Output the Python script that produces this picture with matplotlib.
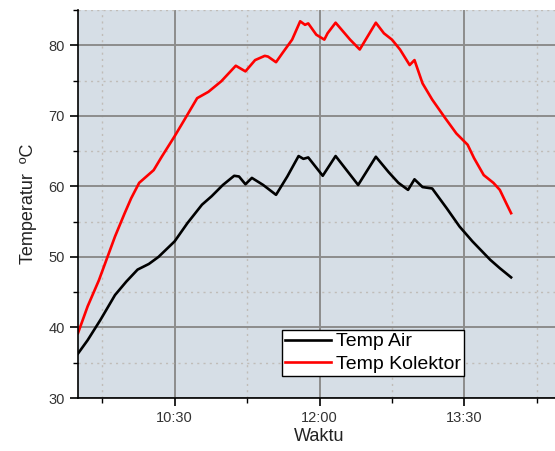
# Temperatur air dan kolektor terhadap waktu

from matplotlib import pyplot as plt
from matplotlib.ticker import MultipleLocator

# Waktu dalam menit sejak 00:00
waktu_kolektor = [570, 576, 583, 588, 593, 599, 603, 608, 617, 622, 630, 636,
                  644, 651, 659, 668, 674, 680, 686, 688, 693, 697, 703, 708,
                  711, 713, 718, 723, 725, 730, 739, 745, 750, 755, 760, 765,
                  770, 776, 779, 784, 790, 798, 805, 812, 816, 822, 828, 832,
                  836, 839]
temp_kolektor = [39.2, 43.0, 46.7, 49.8, 52.9, 56.2, 58.3, 60.5, 62.3, 64.2,
                 67.1, 69.4, 72.5, 73.4, 74.9, 77.1, 76.3, 77.9, 78.5, 78.4,
                 77.6, 78.9, 80.8, 83.4, 82.9, 83.1, 81.5, 80.8, 81.7, 83.2,
                 80.8, 79.4, 81.3, 83.2, 81.7, 80.8, 79.4, 77.2, 77.9, 74.6,
                 72.3, 69.7, 67.5, 65.9, 64.0, 61.6, 60.5, 59.5, 57.6, 56.2]

waktu_air = [570, 576, 584, 593, 600, 607, 614, 620, 630, 638, 647, 653,
             660, 667, 670, 674, 678, 685, 693, 700, 707, 710, 713, 722,
             730, 744, 755, 763, 769, 775, 779, 784, 790, 799, 807, 815,
             826, 832, 839]
temp_air = [36.3, 38.2, 41.1, 44.6, 46.5, 48.2, 49.0, 50.0, 52.2, 54.8, 57.4,
            58.6, 60.2, 61.5, 61.4, 60.3, 61.2, 60.2, 58.8, 61.4, 64.3, 63.9,
            64.1, 61.5, 64.3, 60.2, 64.2, 62.0, 60.5, 59.5, 61.0, 59.9, 59.7,
            56.9, 54.3, 52.2, 49.6, 48.4, 47.1]

xtick_pos = [630, 720, 810]
xtick_label = ["10:30", "12:00", "13:30"]

plt.rcParams["font.family"] = ["Liberation Sans", "DejaVu Sans"]

fig = plt.figure(figsize=(5.55, 4.51), dpi=100)
ax = fig.add_axes([78 / 555, 53 / 451, 483 / 555, 388 / 451])
ax.set_facecolor("#d6dee6")

ax.plot(waktu_air, temp_air, color="black", lw=1.9, label="Temp Air")
ax.plot(waktu_kolektor, temp_kolektor, color="red", lw=1.9,
        label="Temp Kolektor")

ax.set_xlim(570, 870)
ax.set_ylim(30, 85)

ax.set_xticks(xtick_pos)
ax.set_xticklabels(xtick_label)
ax.xaxis.set_minor_locator(MultipleLocator(45))
ax.set_yticks([30, 40, 50, 60, 70, 80])
ax.yaxis.set_minor_locator(MultipleLocator(5))

# Grid mayor dan minor
ax.grid(which="major", color="#8c8c8c", lw=1.4, ls="-")
ax.grid(which="minor", color="#c0bcb8", lw=1.0, ls=(0, (1.5, 3)))
ax.set_axisbelow(True)

for s in ["top", "right"]:
    ax.spines[s].set_visible(False)
ax.spines["left"].set_linewidth(1.2)
ax.spines["bottom"].set_linewidth(1.2)

ax.tick_params(which="major", direction="out", length=6, width=1.2,
               labelsize=10.5, labelcolor="#333333")
ax.tick_params(which="minor", direction="out", length=3.5, width=1.0)

ax.set_xlabel("Waktu", fontsize=13, labelpad=2, color="#222222")
ax.set_ylabel("Temperatur  ºC", fontsize=13, labelpad=8, color="#222222")

leg = ax.legend(loc="lower left", bbox_to_anchor=(0.422, 0.057), fontsize=14,
                frameon=True, fancybox=False, framealpha=1, edgecolor="black",
                handlelength=2.4, handletextpad=0.25, borderpad=0.15,
                labelspacing=0.25, borderaxespad=0)
leg.get_frame().set_linewidth(1.0)

plt.savefig("out.png", dpi=100)
